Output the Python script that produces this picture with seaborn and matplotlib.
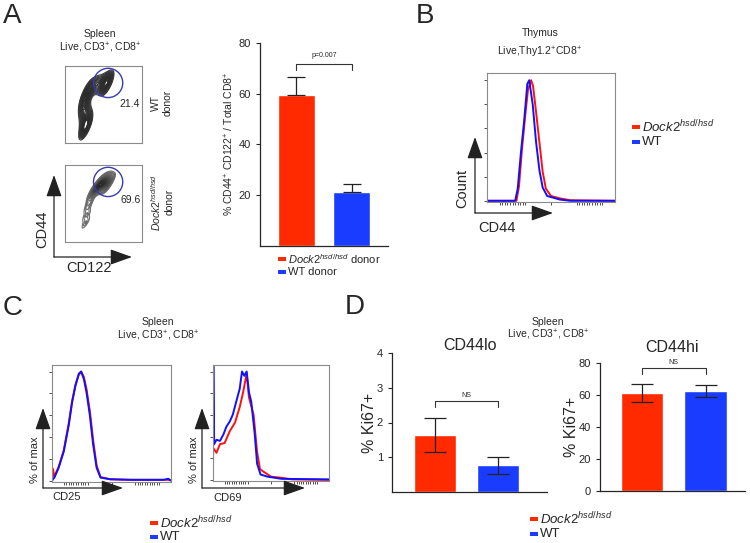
import numpy as np
import pandas as pd
import matplotlib
matplotlib.use("Agg")
import matplotlib.pyplot as plt
from matplotlib.patches import Circle, Rectangle
import seaborn as sns

# ---- data ----
RED = "#ff2a00"
BLUE = "#1a3cff"
LRED = "#ff1010"
LBLUE = "#1010ff"

# A: contour plot ridge points (CD122 vs CD44, % of box) with weights
a_wt_x = [27, 27, 26, 25, 25, 27, 32, 39, 46, 52, 56]
a_wt_y = [20, 28, 37, 46, 55, 64, 71, 75, 77, 78, 78]
a_wt_w = [4, 3, 2, 2, 2, 2, 2, 2, 2, 3, 3]
a_ko_x = [27, 28, 30, 33, 36, 40, 44, 48, 52, 56]
a_ko_y = [25, 35, 46, 55, 64, 70, 74, 76, 77, 76]
a_ko_w = [1, 1, 1, 1, 2, 4, 6, 7, 7, 6]
a_gate_pct = ["21.4", "69.6"]

# A: bar chart
a_groups = ["Dock2 donor", "WT donor"]
a_means = [59.5, 21.0]
a_sem = [7.0, 3.1]

# B: CD44 histogram (x = % of axis width, y = % of max)
b_x_wt = [0, 22, 24, 26.5, 29, 31.5, 33, 35.7, 38.3, 41, 43.5, 47, 57, 65, 100]
b_y_wt = [0, 0, 10, 40, 66, 97, 100, 80, 49, 25, 11, 4, 1, 0, 0]
b_x_ko = [0, 23, 25, 27.5, 30, 32, 34.5, 36, 38.3, 41, 43.5, 46, 50, 57, 65, 100]
b_y_ko = [0, 0, 12, 45, 72, 92, 100, 95, 74, 48, 24, 10, 4, 2, 0.5, 0]

# C: CD25 histogram
c25_x = [0, 0.8, 2, 5.6, 9.9, 14.1, 16.9, 19.7, 22.5, 24.5, 26.8, 29, 31.8,
         34.6, 37.5, 40.8, 49, 66, 94, 97.7, 99.5]
c25_y_wt = [0, 1.5, 3, 12, 27, 51, 72, 87, 98, 100, 93, 81, 60, 33, 12, 3,
            1.5, 1, 1, 2, 0.5]
c25_y_ko = [0, 11, 4, 13, 28, 53, 73, 88, 97, 100, 95, 84, 64, 37, 14, 3.5,
            1.5, 1, 1, 1, 0.5]

# C: CD69 histogram
c69_x_wt = [0, 0.3, 1, 3, 6, 9, 11.5, 14.5, 17, 20, 23, 25, 27, 29, 31, 33,
            36, 38, 41, 47, 59, 100]
c69_y_wt = [0, 106, 33, 37, 36, 42, 49, 54, 60, 72, 84, 100, 96, 100, 81, 72,
            42, 15, 5, 3, 1, 0.5]
c69_x_ko = [0.5, 3, 6, 10, 14.5, 19, 23, 26, 29, 31, 35, 38, 40.5, 43, 50,
            59, 68, 100]
c69_y_ko = [29, 25, 33, 34, 45, 53, 67, 81, 98, 76, 60, 26, 10, 8, 3, 2,
            0.5, 0]

# D: Ki67 bars
d_groups = ["Dock2", "WT"]
d_lo_means = [1.64, 0.77]
d_lo_sem = [0.49, 0.25]
d_hi_means = [61.2, 62.5]
d_hi_sem = [5.7, 4.0]

# ---- style ----
sns.set_style("ticks")
plt.rcParams["font.family"] = ["Liberation Sans", "DejaVu Sans"]
plt.rcParams["mathtext.fontset"] = "custom"
plt.rcParams["mathtext.rm"] = "Liberation Sans"
plt.rcParams["mathtext.it"] = "Liberation Sans:italic"
plt.rcParams["axes.linewidth"] = 0.9

W, H = 750, 543
fig = plt.figure(figsize=(W / 100, H / 100), dpi=100)


def px_axes(x0, y0, x1, y1):
    return fig.add_axes([x0 / W, 1 - y1 / H, (x1 - x0) / W, (y1 - y0) / H])


DOCK = r"$\mathit{Dock2}^{\mathit{hsd/hsd}}$"
LIVE = r"Live, CD3$^{+}$, CD8$^{+}$"


def flow_box(ax, ticks=False):
    for s in ax.spines.values():
        s.set_color("#8a8a8a")
        s.set_linewidth(0.8)
    ax.set_xlabel("")
    ax.set_ylabel("")
    if ticks:
        ax.set_yticks(np.arange(0, 101, 20))
        ax.set_xticks([10, 12, 14, 16, 18, 20, 22, 24, 26, 28, 30, 50, 70, 72,
                       74, 76, 78, 80, 82, 84, 86, 88, 90])
        ax.tick_params(length=2, width=0.6, color="#333", labelleft=False,
                       labelbottom=False)
    else:
        ax.set_xticks([])
        ax.set_yticks([])


# ---- A: contour plots ----
for (xs, ys, ws, box, bw, th, light, nlev) in [
    (a_wt_x, a_wt_y, a_wt_w, (65, 66, 142, 143), 0.6, 0.12, "#3a3a3a", 24),
    (a_ko_x, a_ko_y, a_ko_w, (65, 165, 142, 242), 0.68, 0.05, "#6e6e6e", 30),
]:
    ax = px_axes(*box)
    cmap = sns.dark_palette(light, reverse=True, as_cmap=True)
    sns.kdeplot(x=xs, y=ys, weights=ws, levels=nlev, thresh=th, bw_adjust=bw,
                cmap=cmap, linewidths=0.8, ax=ax)
    ax.set_xlim(0, 100)
    ax.set_ylim(0, 100)
    ax.add_patch(Circle((56, 78), 19, fill=False, color="#3a3ab4", lw=1.0, zorder=5))
    flow_box(ax)

# ---- A: bar chart ----
ax = px_axes(260, 43, 388, 245.5)
dfa = pd.DataFrame({"group": a_groups, "value": a_means})
sns.barplot(data=dfa, x="group", y="value", hue="group", palette=[RED, BLUE],
            width=0.67, saturation=1, errorbar=None, legend=False, ax=ax)
ax.errorbar([0, 1], a_means, yerr=[[0, 0], a_sem], fmt="none", ecolor="#222",
            elinewidth=0.9, capsize=6.5, capthick=0.9)
ax.set_xlim(-0.66, 1.66)
ax.set_ylim(0, 80)
ax.set_yticks([20, 40, 60, 80])
ax.set_xticks([])
ax.set_xlabel("")
ax.set_ylabel(r"% CD44$^{+}$ CD122$^{+}$ / Total CD8$^{+}$", fontsize=7.5, labelpad=2)
ax.tick_params(axis="y", labelsize=8, length=3, width=0.8)
sns.despine(ax=ax)
ax.plot([0, 0, 1, 1], [69.5, 71.8, 71.8, 69.5], color="#333", lw=0.8)
ax.text(0.5, 73.5, "p=0.007", ha="center", va="bottom", fontsize=5)

# ---- B: histogram ----
ax = px_axes(487, 73, 615, 202)
sns.lineplot(x=b_x_ko, y=b_y_ko, color=LRED, lw=1.4, estimator=None, sort=False, ax=ax)
sns.lineplot(x=b_x_wt, y=b_y_wt, color=LBLUE, lw=1.4, estimator=None, sort=False, ax=ax)
ax.set_xlim(0, 100)
ax.set_ylim(-1, 106)
flow_box(ax, ticks=True)

# ---- C: histograms ----
ax = px_axes(52, 365, 171, 482)
sns.lineplot(x=c25_x, y=c25_y_ko, color=LRED, lw=1.4, estimator=None, sort=False, ax=ax)
sns.lineplot(x=c25_x, y=c25_y_wt, color=LBLUE, lw=1.4, estimator=None, sort=False, ax=ax)
ax.set_xlim(0, 100)
ax.set_ylim(-1, 106)
flow_box(ax, ticks=True)

ax = px_axes(213, 365, 329, 481)
sns.lineplot(x=c69_x_ko, y=c69_y_ko, color=LRED, lw=1.4, estimator=None, sort=False, ax=ax)
sns.lineplot(x=c69_x_wt, y=c69_y_wt, color=LBLUE, lw=1.4, estimator=None, sort=False, ax=ax)
ax.set_xlim(0, 100)
ax.set_ylim(-1, 106)
flow_box(ax, ticks=True)

# ---- D: Ki67 bars ----
for (means, sem, box, lim, ticks, title, br, pad) in [
    (d_lo_means, d_lo_sem, (392, 353, 547, 492), (-0.68, 1.78), [1, 2, 3, 4],
     "CD44lo", (2.45, 2.63, 4), 1),
    (d_hi_means, d_hi_sem, (600, 363, 745, 491), (-0.66, 1.62), [0, 20, 40, 60, 80],
     "CD44hi", (73, 77, 80), 8),
]:
    ax = px_axes(*box)
    dfd = pd.DataFrame({"group": d_groups, "value": means})
    sns.barplot(data=dfd, x="group", y="value", hue="group", palette=[RED, BLUE],
                width=0.67, saturation=1, errorbar=None, legend=False, ax=ax)
    ax.errorbar([0, 1], means, yerr=sem, fmt="none", ecolor="#222",
                elinewidth=0.9, capsize=8, capthick=0.9)
    ax.set_xlim(*lim)
    ax.set_ylim(0, br[2])
    ax.set_yticks(ticks)
    ax.set_xticks([])
    ax.set_xlabel("")
    ax.set_ylabel("% Ki67+", fontsize=11.5, labelpad=0)
    ax.tick_params(axis="y", labelsize=8, length=3, width=0.8)
    sns.despine(ax=ax)
    ax.plot([0, 0, 1, 1], [br[0], br[1], br[1], br[0]], color="#333", lw=0.8)
    ax.text(0.5, br[1] + br[2] * 0.015, "NS", ha="center", va="bottom", fontsize=5)
    ax.set_title(title, fontsize=11.5, pad=pad)

# ---- overlay: letters, headers, arrows, legends ----
ov = fig.add_axes([0, 0, 1, 1])
ov.set_xlim(0, W)
ov.set_ylim(H, 0)
ov.axis("off")

for letter, x, y in [("A", 3, 23), ("B", 416, 23), ("C", 3, 315), ("D", 345, 314)]:
    ov.text(x, y, letter, fontsize=20, va="baseline", ha="left")

for x, y, t in [(100, 34, "Spleen"), (100, 48, LIVE),
                (540, 33, "Thymus"), (540, 52, r"Live,Thy1.2$^{+}$CD8$^{+}$"),
                (158, 322, "Spleen"), (158, 336, LIVE),
                (548, 322, "Spleen"), (548, 335, LIVE)]:
    ov.text(x, y, t, fontsize=7.5, ha="center", va="center")


def arrow(x0, y0, x1, y1):
    ov.annotate("", xy=(x1, y1), xytext=(x0, y0),
                arrowprops=dict(arrowstyle="-|>,head_length=0.9,head_width=0.32",
                                color="#222", lw=0.9, mutation_scale=15,
                                shrinkA=0, shrinkB=0))


def axis_arrows(x, y, top, right):
    arrow(x, y, x, top)
    arrow(x, y, right, y)


axis_arrows(54, 257, 175, 132)
axis_arrows(475, 213, 137, 553)
axis_arrows(43, 488, 408, 123)
axis_arrows(202, 488, 408, 305)

ov.text(130, 104, a_gate_pct[0], fontsize=7.5, ha="center", va="center")
ov.text(131, 200, a_gate_pct[1], fontsize=7.5, ha="center", va="center")
ov.text(162, 103, "WT\ndonor", fontsize=7.5, rotation=90, ha="center",
        va="center", multialignment="center")
ov.text(162, 202, DOCK + "\ndonor", fontsize=7.5, rotation=90, ha="center",
        va="center", multialignment="center")
ov.text(42, 229, "CD44", fontsize=10.5, rotation=90, ha="center", va="center")
ov.text(89, 268, "CD122", fontsize=10.5, ha="center", va="center")
ov.text(462, 188, "Count", fontsize=10.5, rotation=90, ha="center", va="center")
ov.text(497, 228, "CD44", fontsize=10.5, ha="center", va="center")
ov.text(35, 460, "% of max", fontsize=8, rotation=90, ha="center", va="center")
ov.text(194, 460, "% of max", fontsize=8, rotation=90, ha="center", va="center")
ov.text(52, 497, "CD25", fontsize=8, ha="left", va="center")
ov.text(213, 498, "CD69", fontsize=8, ha="left", va="center")


def legend(x, y, labels, fs, dy, pw=8, ph=4):
    for i, (lab, c) in enumerate(zip(labels, [RED, BLUE])):
        yy = y + i * dy
        ov.add_patch(Rectangle((x, yy - ph / 2), pw, ph, color=c, lw=0))
        ov.text(x + pw + 2, yy, lab, fontsize=fs, ha="left", va="center")


legend(278, 259, [DOCK + " donor", "WT donor"], 8, 13)
legend(632, 127, [DOCK, "WT"], 9.5, 15)
legend(150, 523, [DOCK, "WT"], 9.5, 14)
legend(530, 519, [DOCK, "WT"], 9.5, 15)

fig.savefig("out.png", dpi=100)
